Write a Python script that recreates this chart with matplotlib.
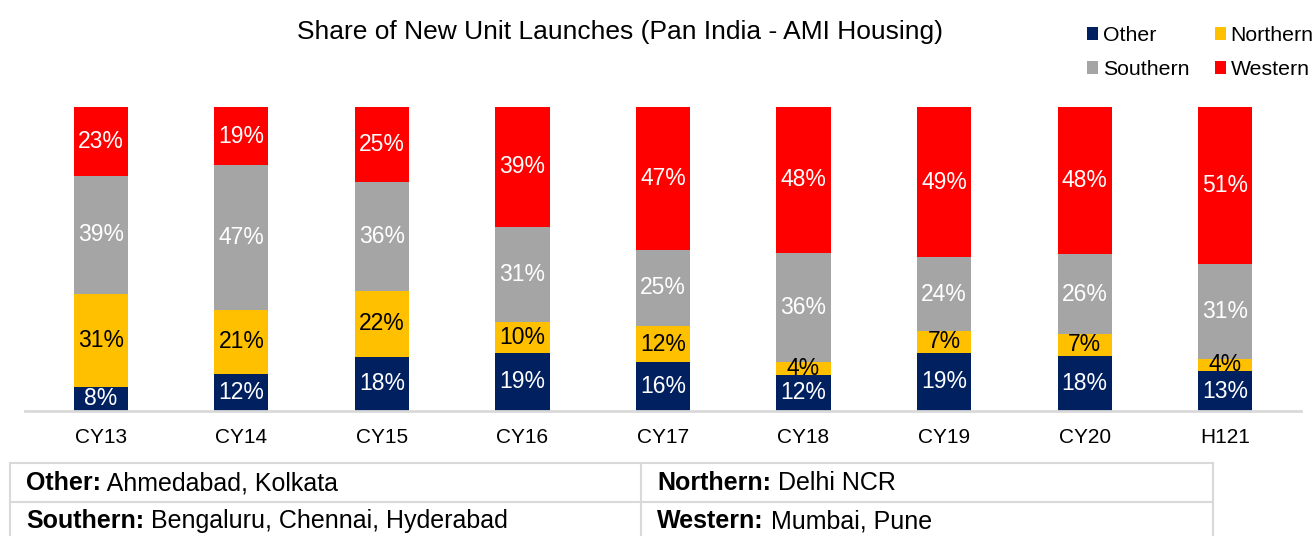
import numpy as np
import matplotlib.pyplot as plt
from matplotlib.lines import Line2D

plt.rcParams['font.family'] = ['Liberation Sans', 'DejaVu Sans']

categories = ['CY13', 'CY14', 'CY15', 'CY16', 'CY17', 'CY18', 'CY19', 'CY20', 'H121']
other = [8, 12, 18, 19, 16, 12, 19, 18, 13]
northern = [31, 21, 22, 10, 12, 4, 7, 7, 4]
southern = [39, 47, 36, 31, 25, 36, 24, 26, 31]
western = [23, 19, 25, 39, 47, 48, 49, 48, 51]

series = [('Other', other, '#002060', 'white'),
          ('Northern', northern, '#FFC000', 'black'),
          ('Southern', southern, '#A5A5A5', 'white'),
          ('Western', western, '#FF0000', 'white')]

fig = plt.figure(figsize=(13.16, 5.36), dpi=100)
W, H = 1316, 536
ax = fig.add_axes([25 / W, 125 / H, 1276 / W, 304 / H])

x = np.arange(len(categories))
# 100% stacked: each column is scaled to its own total
totals = np.sum([s[1] for s in series], axis=0).astype(float)
bottom = np.zeros(len(categories))
handles = {}
for name, vals, col, tcol in series:
    raw = np.array(vals, dtype=float)
    share = raw / totals * 100
    bars = ax.bar(x, share, 0.385, bottom=bottom, color=col, label=name)
    handles[name] = bars
    for xi, b, s, v in zip(x, bottom, share, raw):
        ax.text(xi, b + s / 2, '%d%%' % v, ha='center', va='center',
                color=tcol, fontsize=16.5)
    bottom += share

ax.set_xlim(-0.54, 8.54)
ax.set_ylim(0, 100)
ax.set_xticks(x)
ax.set_xticklabels(categories, fontsize=15)
ax.tick_params(axis='x', length=0, pad=12)
ax.set_yticks([])
for s in ['top', 'right', 'left']:
    ax.spines[s].set_visible(False)
ax.spines['bottom'].set_color('#D9D9D9')
ax.spines['bottom'].set_linewidth(2)

fig.text(620 / W, 1 - 32 / H, 'Share of New Unit Launches (Pan India - AMI Housing)',
         ha='center', va='center', fontsize=19)

order = ['Other', 'Southern', 'Northern', 'Western']
fig.legend([handles[n] for n in order], order, ncol=2, frameon=False,
           loc='upper left', bbox_to_anchor=(1076 / W, 1 - 15 / H),
           fontsize=15.3, handlelength=0.55, handleheight=0.55, handletextpad=0.2,
           columnspacing=1.2, labelspacing=0.72, borderpad=0)

# definition table below the chart
grid = '#D9D9D9'
tl, tm, tr = 10 / W, 641 / W, 1213 / W
ty = [1 - 463 / H, 1 - 502 / H, 1 - 541 / H]
for yy in ty:
    fig.add_artist(Line2D([tl, tr], [yy, yy], color=grid, lw=1.5))
for xx in [tl, tm, tr]:
    fig.add_artist(Line2D([xx, xx], [ty[0], ty[2]], color=grid, lw=1.5))

cells = [('Other:', ' Ahmedabad, Kolkata', 26, 483),
         ('Northern:', ' Delhi NCR', 657, 483),
         ('Southern:', ' Bengaluru, Chennai, Hyderabad', 26, 521),
         ('Western:', ' Mumbai, Pune', 657, 521)]
for head, rest, px, py in cells:
    t = fig.text(px / W, 1 - py / H, head, ha='left', va='center', fontsize=18,
                 fontweight='bold')
    ax.annotate(rest, xy=(1, 0.5), xycoords=t, ha='left', va='center',
                fontsize=18, annotation_clip=False)

fig.savefig('out.png', dpi=100)
